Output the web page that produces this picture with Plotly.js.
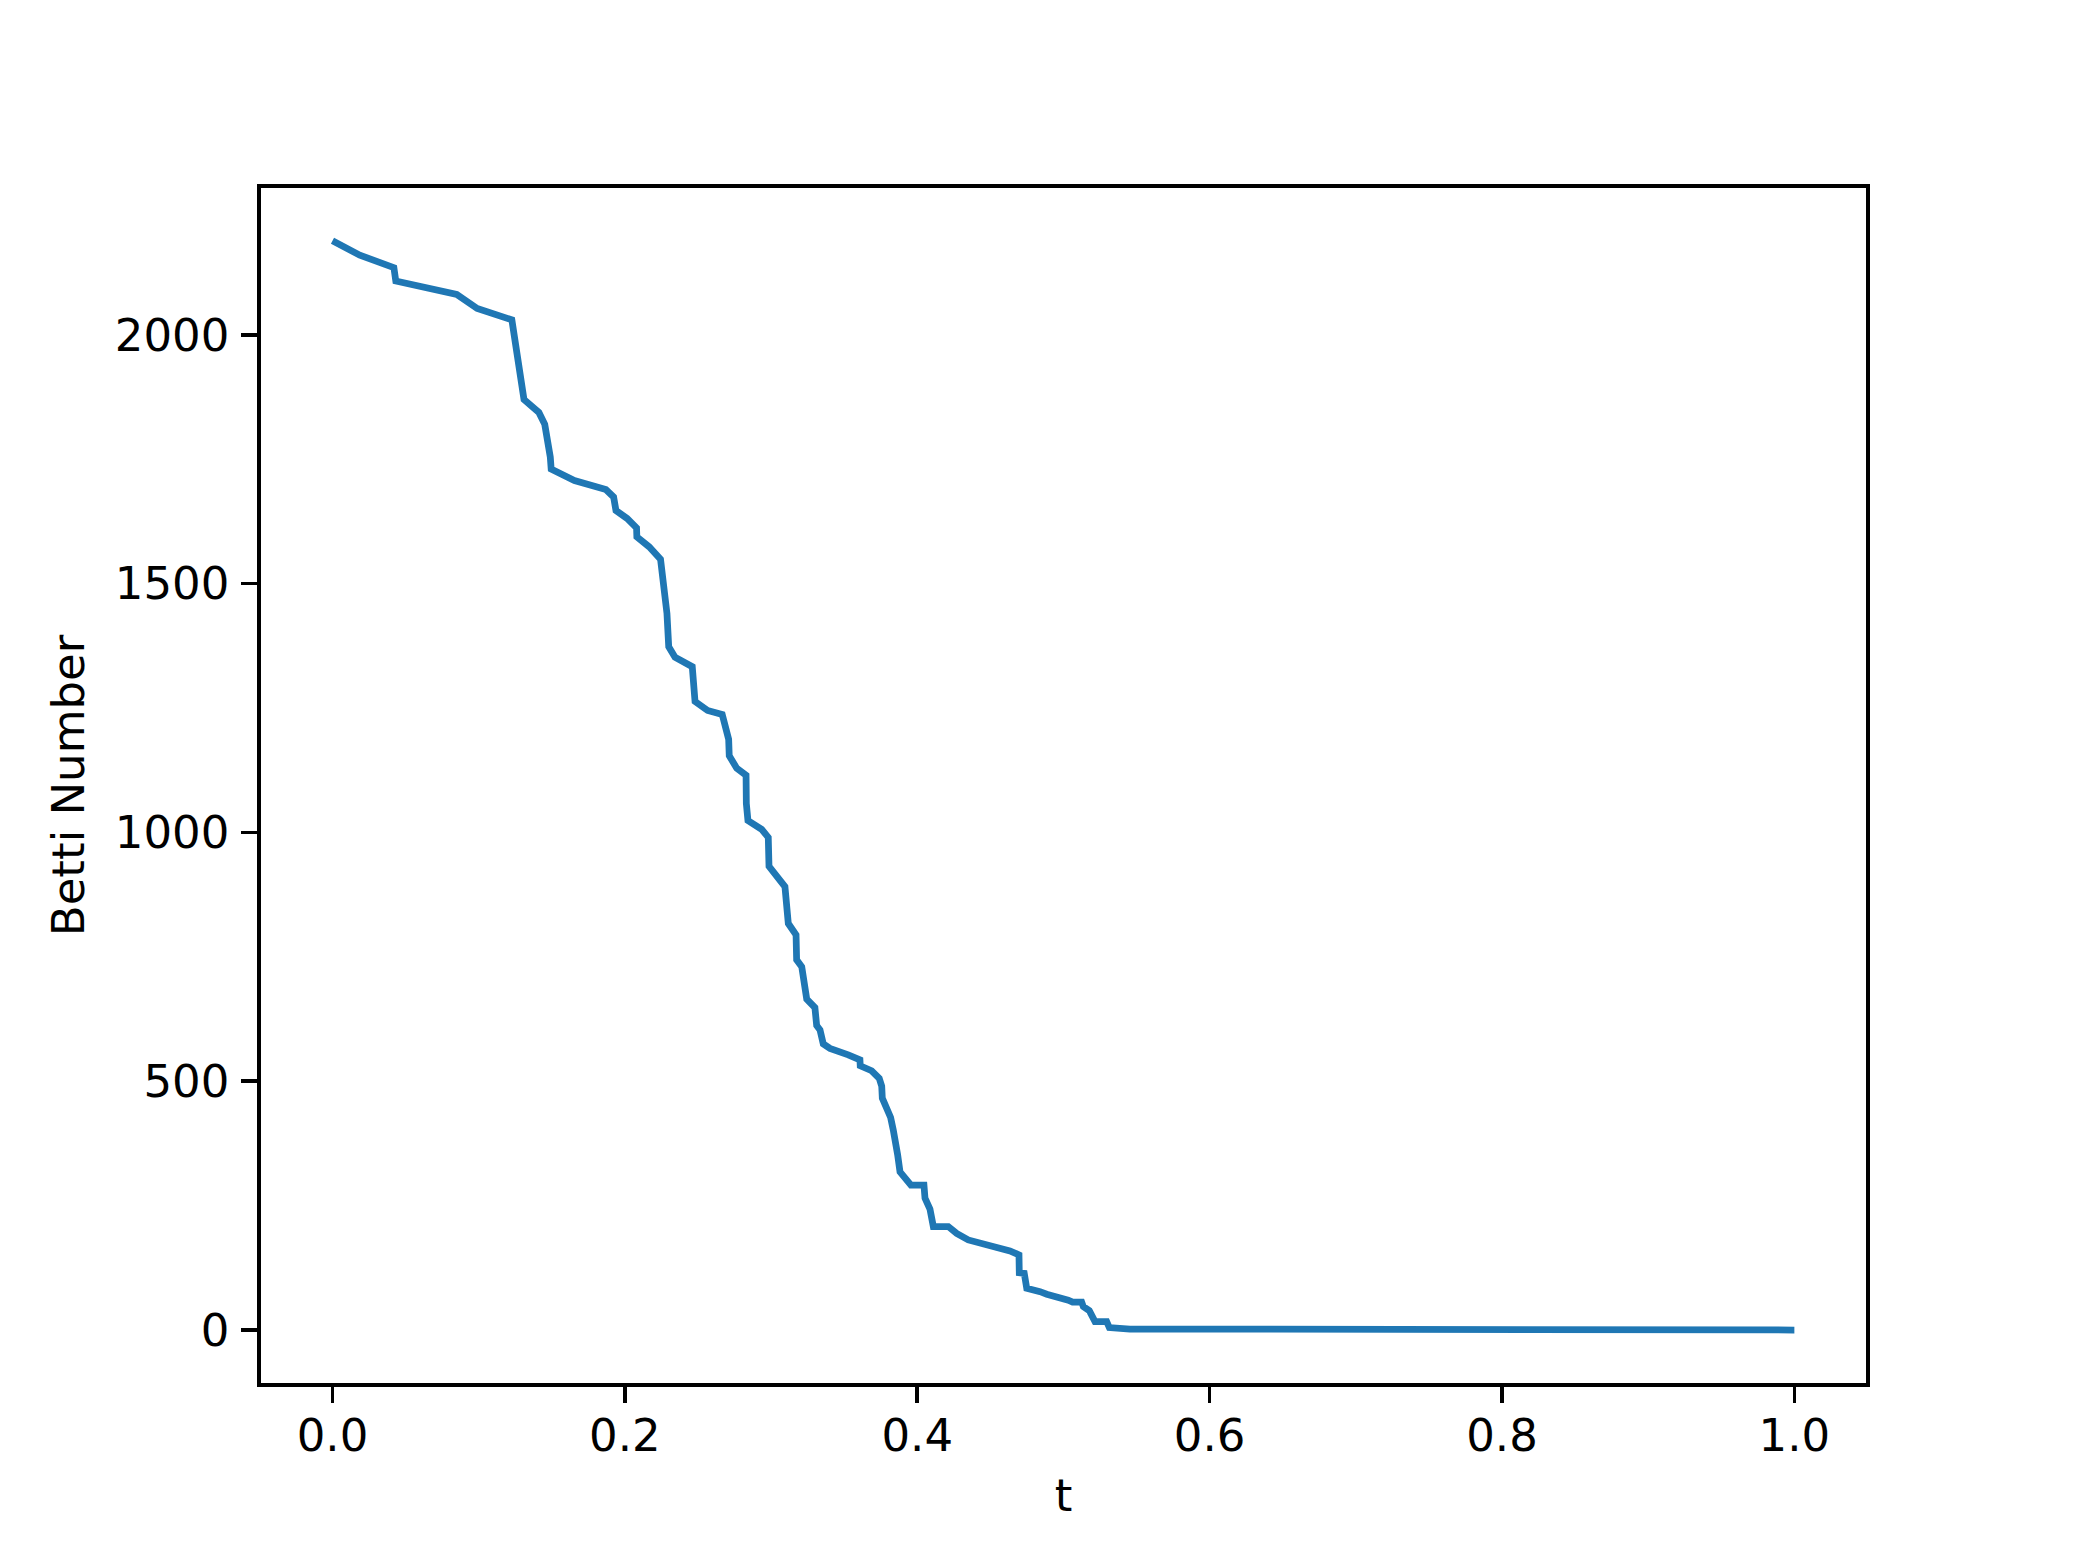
<!DOCTYPE html>
<html lang="en">
<head>
    <meta charset="UTF-8">
    <title>Betti Number</title>
    <script src="https://cdn.plot.ly/plotly-3.0.1.min.js"></script>
    <style>
        body { margin: 0; background: white; }
        #chart { width: 2075px; height: 1556px; }
    </style>
</head>
<body>
    <div id="chart"></div>
    <script>
        // values
        const tVals = [0, 0.0187, 0.042, 0.0433, 0.085, 0.099, 0.1227, 0.1268, 0.131, 0.1412,
            0.1452, 0.149, 0.1496, 0.1655, 0.187, 0.1923, 0.1939, 0.2015, 0.208, 0.2082,
            0.2166, 0.2244, 0.2288, 0.2300, 0.2343, 0.2461, 0.248, 0.2566, 0.2666, 0.271,
            0.2714, 0.2765, 0.2829, 0.2831, 0.284, 0.2842, 0.2936, 0.2981, 0.2986, 0.3095,
            0.3118, 0.3171, 0.3175, 0.321, 0.3244, 0.33, 0.3312, 0.3335, 0.3357, 0.3403,
            0.3528, 0.3608, 0.361, 0.3688, 0.374, 0.3757, 0.3761, 0.3791, 0.3818, 0.3836,
            0.3852, 0.3866, 0.3882, 0.3957, 0.4046, 0.4053, 0.4087, 0.411, 0.4212, 0.427,
            0.4349, 0.4452, 0.4634, 0.4696, 0.4698, 0.4732, 0.4749, 0.484, 0.4886, 0.5033,
            0.5063, 0.5125, 0.5136, 0.5177, 0.5216, 0.5296, 0.5314, 0.5455, 0.65, 0.764,
            0.879, 1.0];
        const betti = [2189, 2160, 2135, 2108, 2081, 2053, 2030, 1947, 1870, 1844,
            1820, 1754, 1730, 1707, 1689, 1674, 1647, 1631, 1612, 1594,
            1574, 1549, 1440, 1373, 1352, 1333, 1263, 1245, 1237, 1187,
            1154, 1129, 1115, 1058, 1042, 1024, 1006, 990, 932, 891,
            817, 794, 744, 730, 665, 648, 612, 603, 575, 566,
            553, 543, 531, 521, 506, 490, 466, 442, 427, 402,
            362, 352, 318, 291, 291, 265, 243, 208, 208, 194,
            181, 174, 159, 151, 115, 114, 84, 77, 72, 60,
            56, 56, 47, 39, 17, 17, 5, 2, 1.5, 1,
            0.5, 0];

        const xTicks = [0, 0.2, 0.4, 0.6, 0.8, 1.0];
        const xTickText = ["0.0", "0.2", "0.4", "0.6", "0.8", "1.0"];
        const yTicks = [0, 500, 1000, 1500, 2000];

        const font = {family: "DejaVu Sans", size: 45, color: "black"};

        const axisStyle = {
            showgrid: false, zeroline: false,
            showline: true, mirror: true, linecolor: "black", linewidth: 3.6,
            ticks: "outside", ticklen: 16, tickwidth: 3.6, tickcolor: "black",
            tickfont: font, automargin: false
        };

        Plotly.newPlot("chart", [{
            x: tVals, y: betti, mode: "lines",
            line: {color: "#1f77b4", width: 6.75},
            hoverinfo: "skip"
        }], {
            width: 2075, height: 1556,
            paper_bgcolor: "white", plot_bgcolor: "white",
            showlegend: false,
            margin: {l: 261, r: 209, t: 188, b: 173, pad: 0},
            xaxis: Object.assign({}, axisStyle, {
                range: [-0.0489, 1.049],
                tickvals: xTicks, ticktext: xTickText,
                ticklabelstandoff: -6,
                title: {text: "t", font: font, standoff: 20}
            }),
            yaxis: Object.assign({}, axisStyle, {
                range: [-106.5, 2295],
                tickvals: yTicks,
                ticklabelstandoff: 3,
                title: {text: "Betti Number", font: font, standoff: 17}
            })
        }, {staticPlot: true});
    </script>
</body>
</html>
